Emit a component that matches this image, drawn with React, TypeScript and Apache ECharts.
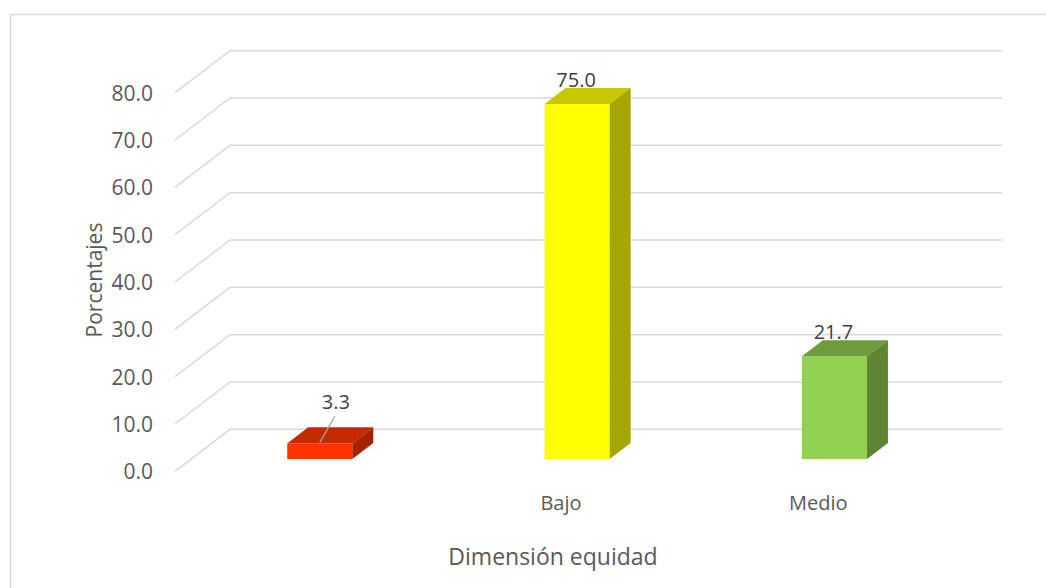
import { useEffect, useRef } from 'react';
import * as echarts from 'echarts';

// Chart content
const categories = ['', 'Bajo', 'Medio'];
const percentages = [3.3, 75.0, 21.7];
const yMin = 0;
const yMax = 80;
const yStep = 10;
const yTitle = 'Porcentajes';
const xTitle = 'Dimensión equidad';

// Face shades of each box: front, top, right side
const frontColors = ['#FF3300', '#FFFF00', '#92D050'];
const topColors = ['#C42A00', '#C8C800', '#6E9C3C'];
const sideColors = ['#A42300', '#A6A600', '#5D8532'];

const FONT = '"Open Sans", "Noto Sans", sans-serif';
const TEXT = '#595959';
const GRID_LINE = '#D9D9D9';

// Oblique projection of the floor depth (pixels from the front edge to the back wall)
const DEPTH: [number, number] = [55, -42];
// Box placement inside the depth of the floor (fractions of DEPTH)
const BOX_FRONT = 0.293;
const BOX_BACK = 0.674;
const BOX_WIDTH = 0.253; // share of the category band

function renderGridLine(params: any, api: any) {
  const cs = params.coordSys;
  const y = api.coord([0, api.value(1)])[1];
  const x0 = cs.x;
  const x1 = cs.x + cs.width;
  return {
    type: 'polyline',
    shape: {
      points: [
        [x0, y],
        [x0 + DEPTH[0], y + DEPTH[1]],
        [x1 + DEPTH[0], y + DEPTH[1]],
      ],
    },
    style: { stroke: GRID_LINE, lineWidth: 1.5, fill: null },
    silent: true,
  };
}

function renderBox(params: any, api: any) {
  const i = api.value(0);
  const v = api.value(1);
  const base = api.coord([i, 0]);
  const top = api.coord([i, v]);
  const band = api.size([1, 0])[0];
  const w = band * BOX_WIDTH;

  const fx = base[0] + DEPTH[0] * BOX_FRONT;
  const yBottom = base[1] + DEPTH[1] * BOX_FRONT;
  const yTop = top[1] + DEPTH[1] * BOX_FRONT;
  const dx = DEPTH[0] * (BOX_BACK - BOX_FRONT);
  const dy = DEPTH[1] * (BOX_BACK - BOX_FRONT);
  const L = fx - w / 2;
  const R = fx + w / 2;
  const idx = params.dataIndex;

  const children: any[] = [
    {
      type: 'rect',
      shape: { x: L, y: yTop, width: w, height: yBottom - yTop },
      style: { fill: frontColors[idx] },
    },
    {
      type: 'polygon',
      shape: { points: [[L, yTop], [R, yTop], [R + dx, yTop + dy], [L + dx, yTop + dy]] },
      style: { fill: topColors[idx] },
    },
    {
      type: 'polygon',
      shape: { points: [[R, yTop], [R + dx, yTop + dy], [R + dx, yBottom + dy], [R, yBottom]] },
      style: { fill: sideColors[idx] },
    },
  ];

  const labelStyle = {
    text: v.toFixed(1),
    fill: '#404040',
    fontSize: 20,
    fontFamily: FONT,
    align: 'center',
    verticalAlign: 'middle',
  };

  if (yBottom - yTop < 30) {
    // Short box: the value sits higher with a leader line down to the box
    children.push({
      type: 'line',
      shape: { x1: fx + 15, y1: yTop - 27, x2: fx, y2: yTop - 1 },
      style: { stroke: '#A6A6A6', lineWidth: 1.2 },
    });
    children.push({ type: 'text', x: fx + 16, y: yTop - 42, style: labelStyle });
  } else {
    children.push({ type: 'text', x: fx - 1, y: yTop + dy - 9, style: labelStyle });
  }

  return { type: 'group', children };
}

export default function App() {
  const ref = useRef<HTMLDivElement>(null);

  useEffect(() => {
    document.body.style.margin = '0';
    const chart = echarts.init(ref.current!, null, { renderer: 'svg' });

    const tickValues: number[][] = [];
    for (let v = yMin; v <= yMax; v += yStep) tickValues.push([0, v]);

    chart.setOption({
      animation: false,
      backgroundColor: '#FFFFFF',
      grid: { left: 175, right: 99, top: 92.7, bottom: 116.7, containLabel: false },
      xAxis: {
        type: 'category',
        data: categories,
        axisLine: { show: false },
        axisTick: { show: false },
        axisLabel: { color: TEXT, fontSize: 20, fontFamily: FONT, margin: 21 },
        splitLine: { show: false },
      },
      yAxis: {
        type: 'value',
        min: yMin,
        max: yMax,
        interval: yStep,
        axisLine: { show: false },
        axisTick: { show: false },
        splitLine: { show: false },
        axisLabel: {
          color: TEXT,
          fontSize: 21,
          fontFamily: FONT,
          margin: 22,
          padding: [4, 0, 0, 0],
          formatter: (v: number) => v.toFixed(1),
        },
      },
      series: [
        {
          type: 'custom',
          data: tickValues,
          renderItem: renderGridLine,
          z: 1,
          silent: true,
        },
        {
          type: 'custom',
          data: percentages.map((v, i) => [i, v]),
          renderItem: renderBox,
          z: 2,
        },
      ],
      graphic: [
        {
          type: 'rect',
          shape: { x: 10.5, y: 14.5, width: 1200, height: 700 },
          style: { fill: 'none', stroke: GRID_LINE, lineWidth: 1.5 },
          silent: true,
        },
        {
          type: 'text',
          x: 94,
          y: 280,
          rotation: Math.PI / 2,
          style: {
            text: yTitle,
            fill: TEXT,
            fontSize: 21,
            fontFamily: FONT,
            align: 'center',
            verticalAlign: 'middle',
          },
        },
        {
          type: 'text',
          x: 553,
          y: 556,
          style: {
            text: xTitle,
            fill: TEXT,
            fontSize: 23,
            fontFamily: FONT,
            align: 'center',
            verticalAlign: 'middle',
          },
        },
      ],
    });

    return () => chart.dispose();
  }, []);

  return <div ref={ref} style={{ width: 1046, height: 588 }} />;
}
